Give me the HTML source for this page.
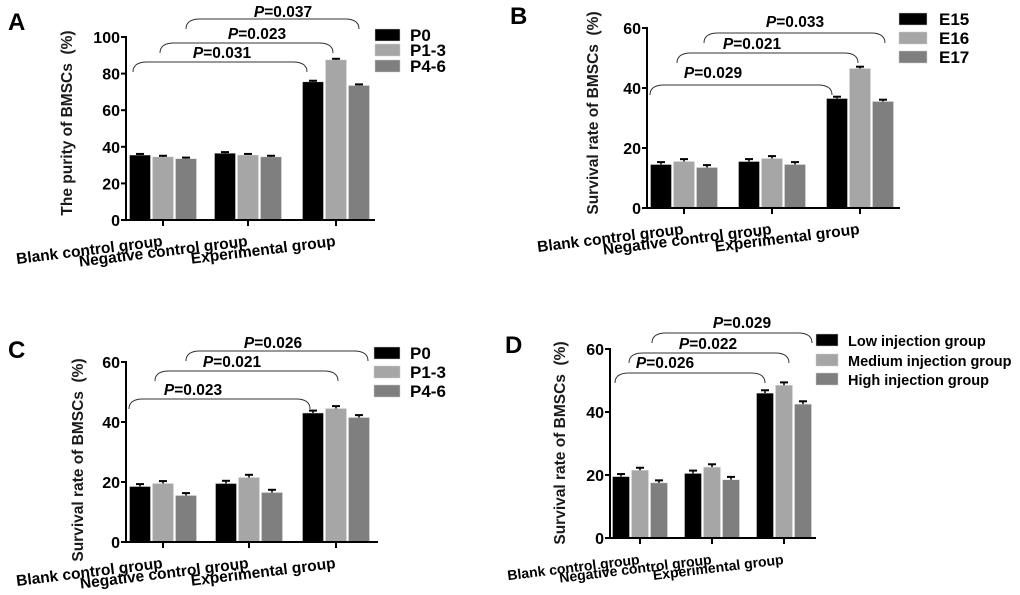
<!DOCTYPE html>
<html><head><meta charset="utf-8">
<style>
html,body{margin:0;padding:0;background:#fff;}
svg{display:block;font-family:"Liberation Sans",Arial,sans-serif;}
</style></head>
<body>
<svg id="fig" width="1020" height="595" viewBox="0 0 1020 595" xmlns="http://www.w3.org/2000/svg"></svg>
<script>
// ---- shared categories ----
const categories = ["Blank control group", "Negative control group", "Experimental group"];
const colors = ["#000000", "#a6a6a6", "#7f7f7f"];

// ---- Panel A ----
const seriesA = ["P0", "P1-3", "P4-6"];
const valsA0 = [35.5, 36.5, 75.5];
const valsA1 = [34.5, 35.5, 87.5];
const valsA2 = [33.5, 34.5, 73.5];
const errA = [0.6, 0.6, 0.6];
const ticksA = [0, 20, 40, 60, 80, 100];
const pA = ["P=0.031", "P=0.023", "P=0.037"];

// ---- Panel B ----
const seriesB = ["E15", "E16", "E17"];
const valsB0 = [14.5, 15.5, 36.5];
const valsB1 = [15.5, 16.5, 46.5];
const valsB2 = [13.5, 14.5, 35.5];
const errB = [0.8, 0.8, 0.6];
const ticksB = [0, 20, 40, 60];
const pB = ["P=0.029", "P=0.021", "P=0.033"];

// ---- Panel C ----
const seriesC = ["P0", "P1-3", "P4-6"];
const valsC0 = [18.5, 19.5, 43];
const valsC1 = [19.5, 21.5, 44.5];
const valsC2 = [15.5, 16.5, 41.5];
const errC = [0.8, 0.9, 0.8];
const ticksC = [0, 20, 40, 60];
const pC = ["P=0.023", "P=0.021", "P=0.026"];

// ---- Panel D ----
const seriesD = ["Low injection group", "Medium injection group", "High injection group"];
const valsD0 = [19.5, 20.5, 46];
const valsD1 = [21.5, 22.5, 48.5];
const valsD2 = [17.5, 18.5, 42.5];
const errD = [0.8, 0.9, 0.9];
const ticksD = [0, 20, 40, 60];
const pD = ["P=0.026", "P=0.022", "P=0.029"];

const NS = "http://www.w3.org/2000/svg";
const svg = document.getElementById("fig");
function el(tag, attrs, parent, text) {
  const e = document.createElementNS(NS, tag);
  for (const k in attrs) e.setAttribute(k, attrs[k]);
  if (text !== undefined) e.textContent = text;
  (parent || svg).appendChild(e);
  return e;
}

function panel(cfg) {
  const g = el("g", {});
  
  
  const ymax = cfg.ticks[cfg.ticks.length - 1];
  const y = v => cfg.y0 - (v / ymax) * (cfg.y0 - cfg.ytop);
  const cx = i => cfg.cx[i];

  const lt = el("text", {x: cfg.lx, y: cfg.ly, "font-size": 24, "font-weight": "bold"}, g, cfg.letter);
  
  

  const series = [cfg.v0, cfg.v1, cfg.v2];
  series.forEach((vals, s) => {
    vals.forEach((v, i) => {
      const x = cx(i) + (s - 1) * cfg.step - cfg.bw / 2;
      const r = el("rect", {x: x, y: y(v), width: cfg.bw, height: cfg.y0 - y(v), fill: colors[s], stroke: "#ddd", "stroke-width": 0.5}, g);
      
      
      const e = cfg.err[i];
      const xc = x + cfg.bw / 2;
      el("line", {x1: xc, x2: xc, y1: y(v), y2: y(v + e), stroke: "#000", "stroke-width": 1.5}, g);
      el("line", {x1: xc - 4, x2: xc + 4, y1: y(v + e), y2: y(v + e), stroke: "#000", "stroke-width": 2}, g);
    });
  });

  const ya = el("line", {x1: cfg.ax, x2: cfg.ax, y1: cfg.ytop - 1, y2: cfg.y0 + 1, stroke: "#000", "stroke-width": 2}, g);
  
  
  const xa = el("line", {x1: cfg.ax - 1, x2: cfg.xend, y1: cfg.y0, y2: cfg.y0, stroke: "#000", "stroke-width": 2}, g);
  
  
  cfg.ticks.forEach(t => {
    el("line", {x1: cfg.ax - 5, x2: cfg.ax, y1: y(t), y2: y(t), stroke: "#000", "stroke-width": 2}, g);
    const tl = el("text", {x: cfg.ax - 6, y: y(t) + 6, "font-size": 16, "font-weight": "bold", "text-anchor": "end"}, g, String(t));
    
    
  });
  categories.forEach((c, i) => {
    el("line", {x1: cx(i), x2: cx(i), y1: cfg.y0, y2: cfg.y0 + 6, stroke: "#000", "stroke-width": 2}, g);
    const tx = cx(i), ty = cfg.y0 + 26;
    const t = el("text", {x: tx, y: ty, "font-size": cfg.xfs, "font-weight": "bold", "text-anchor": "end", transform: "rotate(-7 " + tx + " " + ty + ")"}, g, c);
    
    
  });

  const yt = el("text", {x: 0, y: 0, "font-size": 15.5, "font-weight": "bold", fill: "#1a1a1a", "text-anchor": "middle", transform: "translate(" + cfg.ytx + "," + cfg.yty + ") rotate(-90)"}, g, cfg.ytitle);
  
  

  cfg.br.forEach((b, k) => {
    const [x1, x2, top, lx, ly] = b;
    const r = 7;
    el("path", {d: "M" + x1 + "," + (top + 10) + " Q" + x1 + "," + top + " " + (x1 + r * 2) + "," + top + " L" + (x2 - r * 2) + "," + top + " Q" + x2 + "," + top + " " + x2 + "," + (top + 10), fill: "none", stroke: "#333", "stroke-width": 1}, g);
    const pt = el("text", {x: lx, y: ly, "font-size": 15.5, "font-weight": "bold", "text-anchor": "middle"}, g);
    
    
    el("tspan", {"font-style": "italic"}, pt, "P");
    el("tspan", {}, pt, cfg.p[k].slice(1));
  });

  cfg.series.forEach((s, i) => {
    const ly = cfg.legY[i];
    const lg = el("g", {}, g);
    
    
    el("rect", {x: cfg.legX, y: ly - 6, width: cfg.legW, height: 12, fill: colors[i], stroke: "#ccc", "stroke-width": 0.5}, lg);
    el("text", {x: cfg.legTX, y: ly + 6, "font-size": cfg.legFs, "font-weight": "bold"}, lg, s);
  });
}

panel({letter: "A", lx: 8, ly: 30, ax: 126, xend: 375, y0: 220, ytop: 37, cx: [163, 248, 336], bw: 21, step: 23,
  ticks: ticksA, v0: valsA0, v1: valsA1, v2: valsA2, err: errA, series: seriesA, p: pA, xfs: 15.5,
  ytitle: "The purity of BMSCs \u00A0(%)", ytx: 72, yty: 123,
  br: [[133, 307, 62, 222, 58], [160, 333, 43, 257, 39], [186, 359, 19, 283, 17]],
  legX: 375, legW: 25, legTX: 410, legY: [35, 50, 66], legFs: 17});

panel({letter: "B", lx: 510, ly: 24, ax: 647, xend: 900, y0: 208, ytop: 28, cx: [684, 772, 860], bw: 21, step: 23,
  ticks: ticksB, v0: valsB0, v1: valsB1, v2: valsB2, err: errB, series: seriesB, p: pB, xfs: 15.5,
  ytitle: "Survival rate of BMSCs \u00A0(%)", ytx: 598, yty: 113,
  br: [[650, 832, 85, 713, 78], [677, 858, 53, 752, 49], [704, 885, 33, 795, 27]],
  legX: 899, legW: 28, legTX: 939, legY: [19, 38, 57], legFs: 17});

panel({letter: "C", lx: 8, ly: 358, ax: 126, xend: 378, y0: 542, ytop: 362, cx: [163, 249, 336], bw: 21, step: 23,
  ticks: ticksC, v0: valsC0, v1: valsC1, v2: valsC2, err: errC, series: seriesC, p: pC, xfs: 15.5,
  ytitle: "Survival rate of BMSCs \u00A0(%)", ytx: 83, yty: 460,
  br: [[129, 310, 399, 193, 395], [155, 338, 371, 232, 367], [186, 368, 351, 273, 348]],
  legX: 374, legW: 26, legTX: 410, legY: [353, 372, 391], legFs: 17});

panel({letter: "D", lx: 505, ly: 353, ax: 610, xend: 816, y0: 538, ytop: 349, cx: [640, 712, 784], bw: 17, step: 19,
  ticks: ticksD, v0: valsD0, v1: valsD1, v2: valsD2, err: errD, series: seriesD, p: pD, xfs: 14,
  ytitle: "Survival rate of BMSCs \u00A0(%)", ytx: 565, yty: 443,
  br: [[615, 765, 373, 665, 368], [629, 789, 353, 708, 349], [652, 812, 333, 742, 328]],
  legX: 816, legW: 22, legTX: 848, legY: [340, 360, 379], legFs: 14.5});
</script>
</body></html>
